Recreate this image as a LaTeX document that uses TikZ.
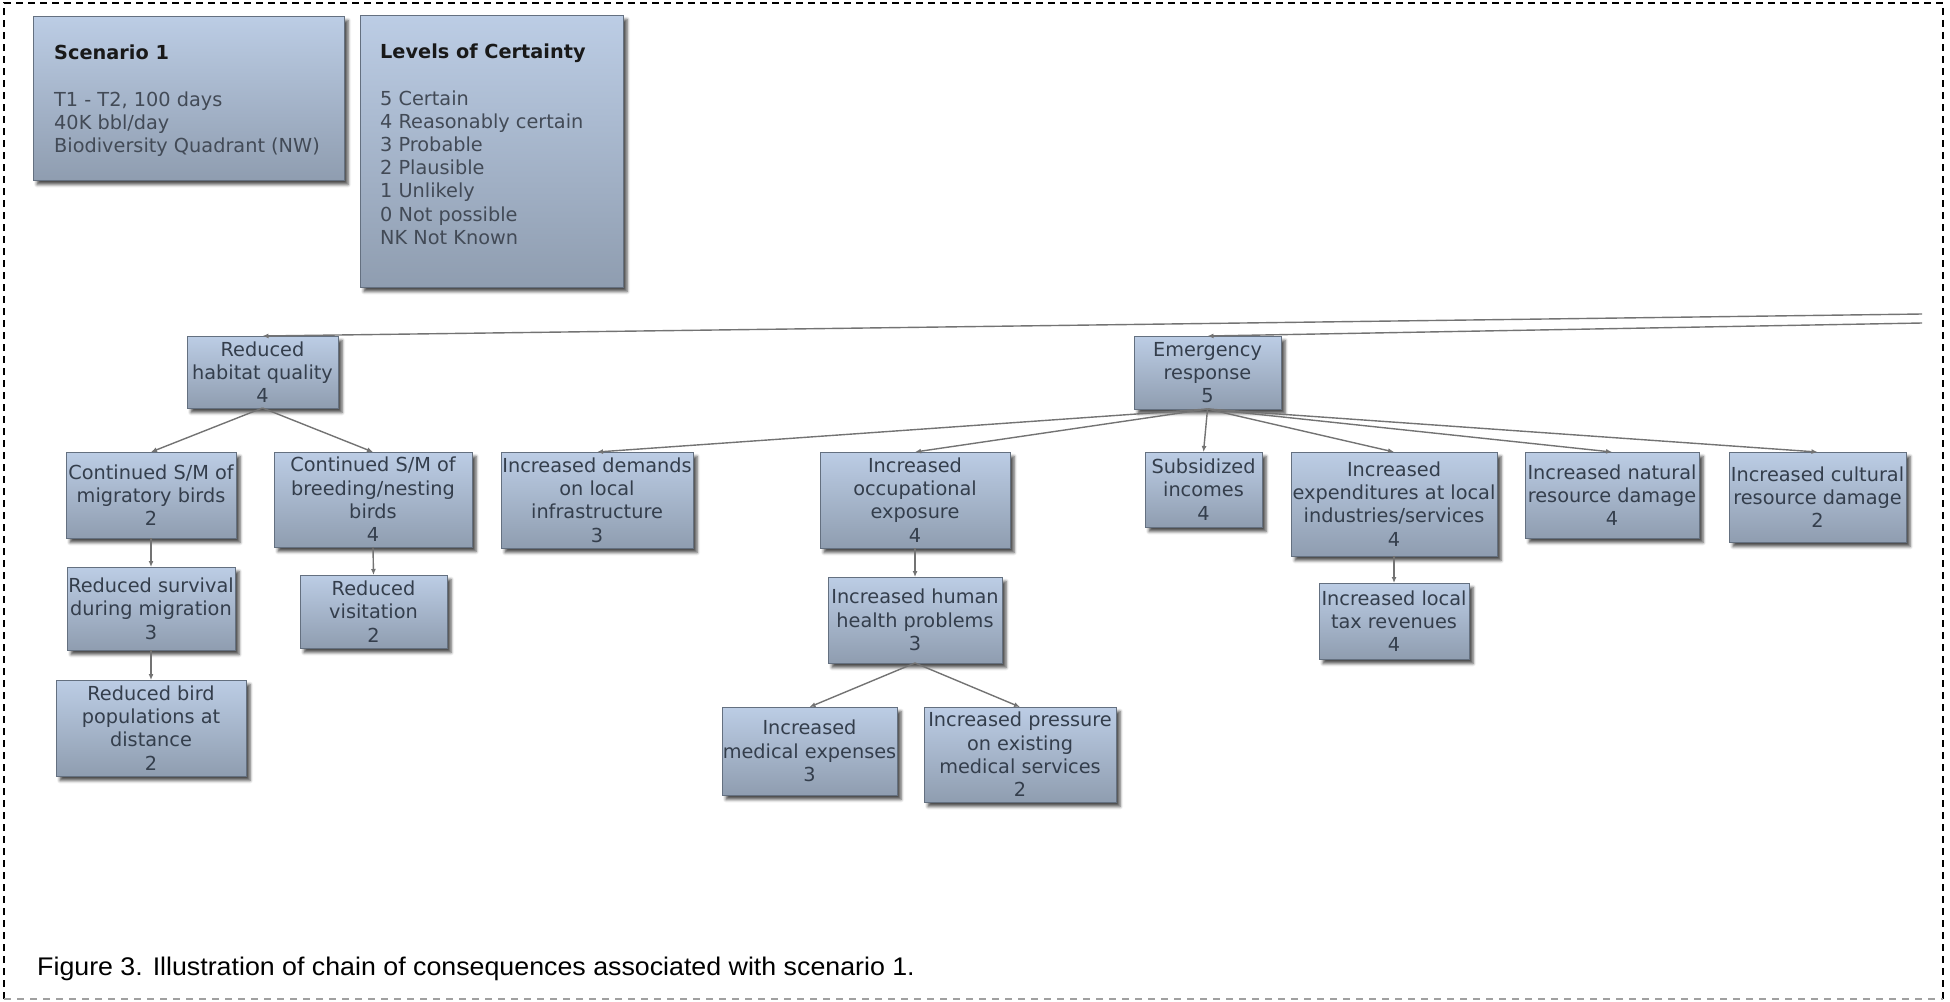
\documentclass[tikz,border=0pt]{standalone}
\usepackage{fontspec}
\setmainfont{DejaVu Sans}
\newfontfamily\capfont[FakeStretch=1.05]{Liberation Sans}
\usetikzlibrary{arrows.meta,shadows.blur}

\definecolor{boxtop}{RGB}{188,205,229}
\definecolor{boxbot}{RGB}{143,157,176}
\definecolor{boxedge}{RGB}{100,112,128}
\definecolor{ink}{RGB}{52,62,76}
\definecolor{linkgray}{RGB}{115,115,115}
\definecolor{bodygray}{RGB}{66,74,86}
\definecolor{framegray}{RGB}{160,160,160}

\tikzset{
  card/.style={draw=boxedge, line width=1pt, top color=boxtop, bottom color=boxbot,
    blur shadow={shadow xshift=4pt, shadow yshift=-4.5pt, shadow blur radius=3pt, shadow opacity=70},
    inner sep=0pt, outer sep=0pt},
  boxsize/.style 2 args={minimum width=#1pt, minimum height=#2pt},
  conseq/.style={card, text=ink, align=center, font=\fontsize{19.3pt}{23.3pt}\selectfont},
  link/.style={draw=linkgray, line width=1.4pt, -{Latex[length=6pt,width=5pt]}},
  infotitle/.style={anchor=base west, inner sep=0pt, text=black!90,
    font=\bfseries\fontsize{19.3pt}{23pt}\selectfont},
  infoline/.style={anchor=base west, inner sep=0pt, text=bodygray,
    font=\fontsize{19.3pt}{23pt}\selectfont},
}

\begin{document}
\begin{tikzpicture}[x=1pt, y=-1pt]
\useasboundingbox (0,0) rectangle (1950,1001);

% frame
\draw[black, line width=2pt, dash pattern=on 7pt off 5pt] (4,999) -- (4,3) -- (1943,3) -- (1943,999);
\draw[framegray, line width=1.3pt, dash pattern=on 7pt off 6pt] (4,999) -- (1943,999);

% scenario and certainty legend
\node[card, boxsize={311}{164}] (scen) at (188.5,98) {};
\node[infotitle] (scenT) at (54,59.5) {Scenario 1};
\node[infoline] (scenA) at (54,106.5) {T1 - T2, 100 days};
\node[infoline] (scenB) at (54,129.3) {40K bbl/day};
\node[infoline] (scenC) at (54,152.3) {Biodiversity Quadrant (NW)};

\node[card, boxsize={263}{272}] (levels) at (491.5,151) {};
\node[infotitle] (levT) at (380,58) {Levels of Certainty};
\foreach \t [count=\i from 0] in {5 Certain, 4 Reasonably certain, 3 Probable,
    2 Plausible, 1 Unlikely, 0 Not possible, NK Not Known}
  \node[infoline] (lev\i) at (380,105+23.2*\i) {\t};

% consequence boxes
\node[conseq, boxsize={151}{72}] (habitat) at (262.5,372) {Reduced\\habitat quality\\4};
\node[conseq, boxsize={170}{86}] (migr) at (151,495) {Continued S/M of\\migratory birds\\2};
\node[conseq, boxsize={198}{95}] (nest) at (373,499.5) {Continued S/M of\\breeding/nesting\\birds\\4};
\node[conseq, boxsize={168}{83}] (surv) at (151,608.5) {Reduced survival\\during migration\\3};
\node[conseq, boxsize={190}{96}] (birdpop) at (151,728) {Reduced bird\\populations at\\distance\\2};
\node[conseq, boxsize={147}{73}] (visit) at (373.5,611.5) {Reduced\\visitation\\2};

\node[conseq, boxsize={147}{73}] (emerg) at (1207.5,372.5) {Emergency\\response\\5};
\node[conseq, boxsize={192}{96}] (demand) at (597,500) {Increased demands\\on local\\infrastructure\\3};
\node[conseq, boxsize={190}{96}] (occup) at (915,500) {Increased\\occupational\\exposure\\4};
\node[conseq, boxsize={174}{86}] (health) at (915,620) {Increased human\\health problems\\3};
\node[conseq, boxsize={175}{88}] (medexp) at (809.5,751) {Increased\\medical expenses\\3};
\node[conseq, boxsize={192}{95}] (press) at (1020,754.5) {Increased pressure\\on existing\\medical services\\2};
\node[conseq, boxsize={117}{75}] (subsid) at (1203.5,489.5) {Subsidized\\incomes\\4};
\node[conseq, boxsize={206}{104}] (expend) at (1394,504) {Increased\\expenditures at local\\industries/services\\4};
\node[conseq, boxsize={150}{76}] (tax) at (1394,621) {Increased local\\tax revenues\\4};
\node[conseq, boxsize={174}{86}] (natural) at (1612,495) {Increased natural\\resource damage\\4};
\node[conseq, boxsize={177}{90}] (cultural) at (1817.5,497) {Increased cultural\\resource damage\\2};

% links entering from beyond the right edge
\coordinate (inA) at (1922,314);
\coordinate (inB) at (1922,323);
\draw[link] (inA) -- (habitat.north);
\draw[link] (inB) -- (emerg.north);

% links between consequences
\draw[link] (habitat.south) -- (migr.north);
\draw[link] (habitat.south) -- (nest.north);
\draw[link] (migr.south) -- (surv.north);
\draw[link] (surv.south) -- (birdpop.north);
\draw[link] (nest.south) -- (visit.north);

\foreach \n in {demand, occup, subsid, expend, natural, cultural}
  \draw[link] (emerg.south) -- (\n.north);
\draw[link] (occup.south) -- (health.north);
\draw[link] (health.south) -- (medexp.north);
\draw[link] (health.south) -- (press.north);
\draw[link] (expend.south) -- (tax.north);

% caption
\node[anchor=base west, inner sep=0pt, font=\capfont\fontsize{25.5pt}{30pt}\selectfont] (caption)
  at (37,975) {Figure 3. Illustration of chain of consequences associated with scenario 1.};
\end{tikzpicture}
\end{document}
